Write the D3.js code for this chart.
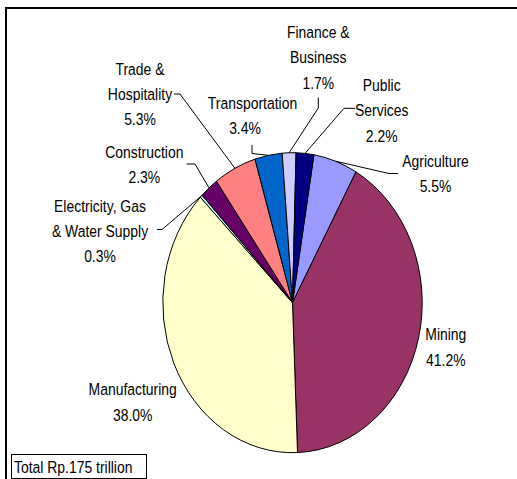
<!DOCTYPE html>
<html>
<head>
<meta charset="utf-8">
<script src="https://cdn.jsdelivr.net/npm/d3@7"></script>
<style>
  html, body { margin: 0; padding: 0; background: #fff; }
  svg { display: block; }
  text { font-family: "Liberation Sans", Arial, sans-serif; fill: #000; }
</style>
</head>
<body>
<svg id="chart" width="517" height="479"></svg>
<script>
// ---- data ----
const categories = ["Agriculture", "Mining", "Manufacturing", "Electricity, Gas & Water Supply",
  "Construction", "Trade & Hospitality", "Transportation", "Finance & Business", "Public Services"];
const values = [5.5, 41.2, 38.0, 0.3, 2.3, 5.3, 3.4, 1.7, 2.2];
const labelLines = [
  ["Agriculture", "5.5%"],
  ["Mining", "41.2%"],
  ["Manufacturing", "38.0%"],
  ["Electricity, Gas", "& Water Supply", "0.3%"],
  ["Construction", "2.3%"],
  ["Trade &", "Hospitality", "5.3%"],
  ["Transportation", "3.4%"],
  ["Finance &", "Business", "1.7%"],
  ["Public", "Services", "2.2%"]
];
const colors = ["#9999FF", "#993366", "#FFFFCC", "#CCFFFF", "#660066", "#FF8080", "#0066CC", "#CCCCFF", "#000080"];
const totalNote = "Total Rp.175 trillion";

// ---- layout ----
const cx = 292.5, cy = 302.7, rx = 129.7, ry = 150;
const startDeg = 9.5;
const lineH = 25.3;
const narrow = 0.82; // horizontal condensing to mimic a narrow face
const labelLayout = [
  { x: 435.5, y: 161, lead: [[398, 173.5], [389, 173.5]] },
  { x: 445.8, y: 334.3, lead: null },
  { x: 132.7, y: 389.3, lead: null },
  { x: 100, y: 205.7, lead: [[157, 229.5], [162, 229.5]] },
  { x: 144.3, y: 152, lead: [[186.5, 164], [195, 164]] },
  { x: 140, y: 68.5, lead: [[174, 94], [180, 94]] },
  { x: 252.5, y: 103, xs: [252.5, 245], lead: [[252, 145], [252, 153.5]] },
  { x: 318.3, y: 31.8, lead: [[318.3, 97.5], [318.3, 108]] },
  { x: 381.7, y: 85, lead: [[355, 108.3], [344, 108.3]] }
];

const svg = d3.select("#chart");

// frame
svg.append("path")
  .attr("d", "M6,479 L6,8 L517,8")
  .attr("fill", "none").attr("stroke", "#000").attr("stroke-width", 2);

const pie = d3.pie().sort(null)
  .startAngle(startDeg * Math.PI / 180)
  .endAngle(startDeg * Math.PI / 180 + 2 * Math.PI)
  .value(d => d);
const arcs = pie(values);
const arc = d3.arc().innerRadius(0).outerRadius(rx);

const g = svg.append("g")
  .attr("transform", `translate(${cx},${cy}) scale(1,${ry / rx})`);
g.selectAll("path.slice").data(arcs).join("path")
  .attr("class", "slice")
  .attr("d", arc)
  .attr("fill", (d, i) => colors[i])
  .attr("stroke", "#000")
  .attr("stroke-width", 1)
  .attr("vector-effect", "non-scaling-stroke")
  .attr("stroke-linejoin", "round");

function edgePoint(d) {
  const a = (d.startAngle + d.endAngle) / 2;
  return [cx + rx * Math.sin(a), cy - ry * Math.cos(a)];
}

// leader lines
const line = d3.line();
arcs.forEach((d, i) => {
  const L = labelLayout[i];
  if (!L.lead) return;
  const pts = L.lead.concat([edgePoint(d)]);
  svg.append("path")
    .attr("d", line(pts))
    .attr("fill", "none")
    .attr("stroke", "#000")
    .attr("stroke-width", 1);
});

// labels
arcs.forEach((d, i) => {
  const L = labelLayout[i];
  labelLines[i].forEach((s, k) => {
    const x = L.xs ? L.xs[k] : L.x;
    svg.append("g")
      .attr("transform", `translate(${x},${L.y + k * lineH}) scale(${narrow},1)`)
      .append("text")
      .attr("text-anchor", "middle")
      .attr("font-size", 17)
      .attr("dy", "0.36em")
      .text(s);
  });
});

// total box
svg.append("rect")
  .attr("x", 11.5).attr("y", 454.5).attr("width", 135).attr("height", 24)
  .attr("fill", "#fff").attr("stroke", "#000").attr("stroke-width", 1);
svg.append("g")
  .attr("transform", `translate(14,466.7) scale(${narrow},1)`)
  .append("text")
  .attr("dy", "0.36em")
  .attr("font-size", 17)
  .text(totalNote);
</script>
</body>
</html>
